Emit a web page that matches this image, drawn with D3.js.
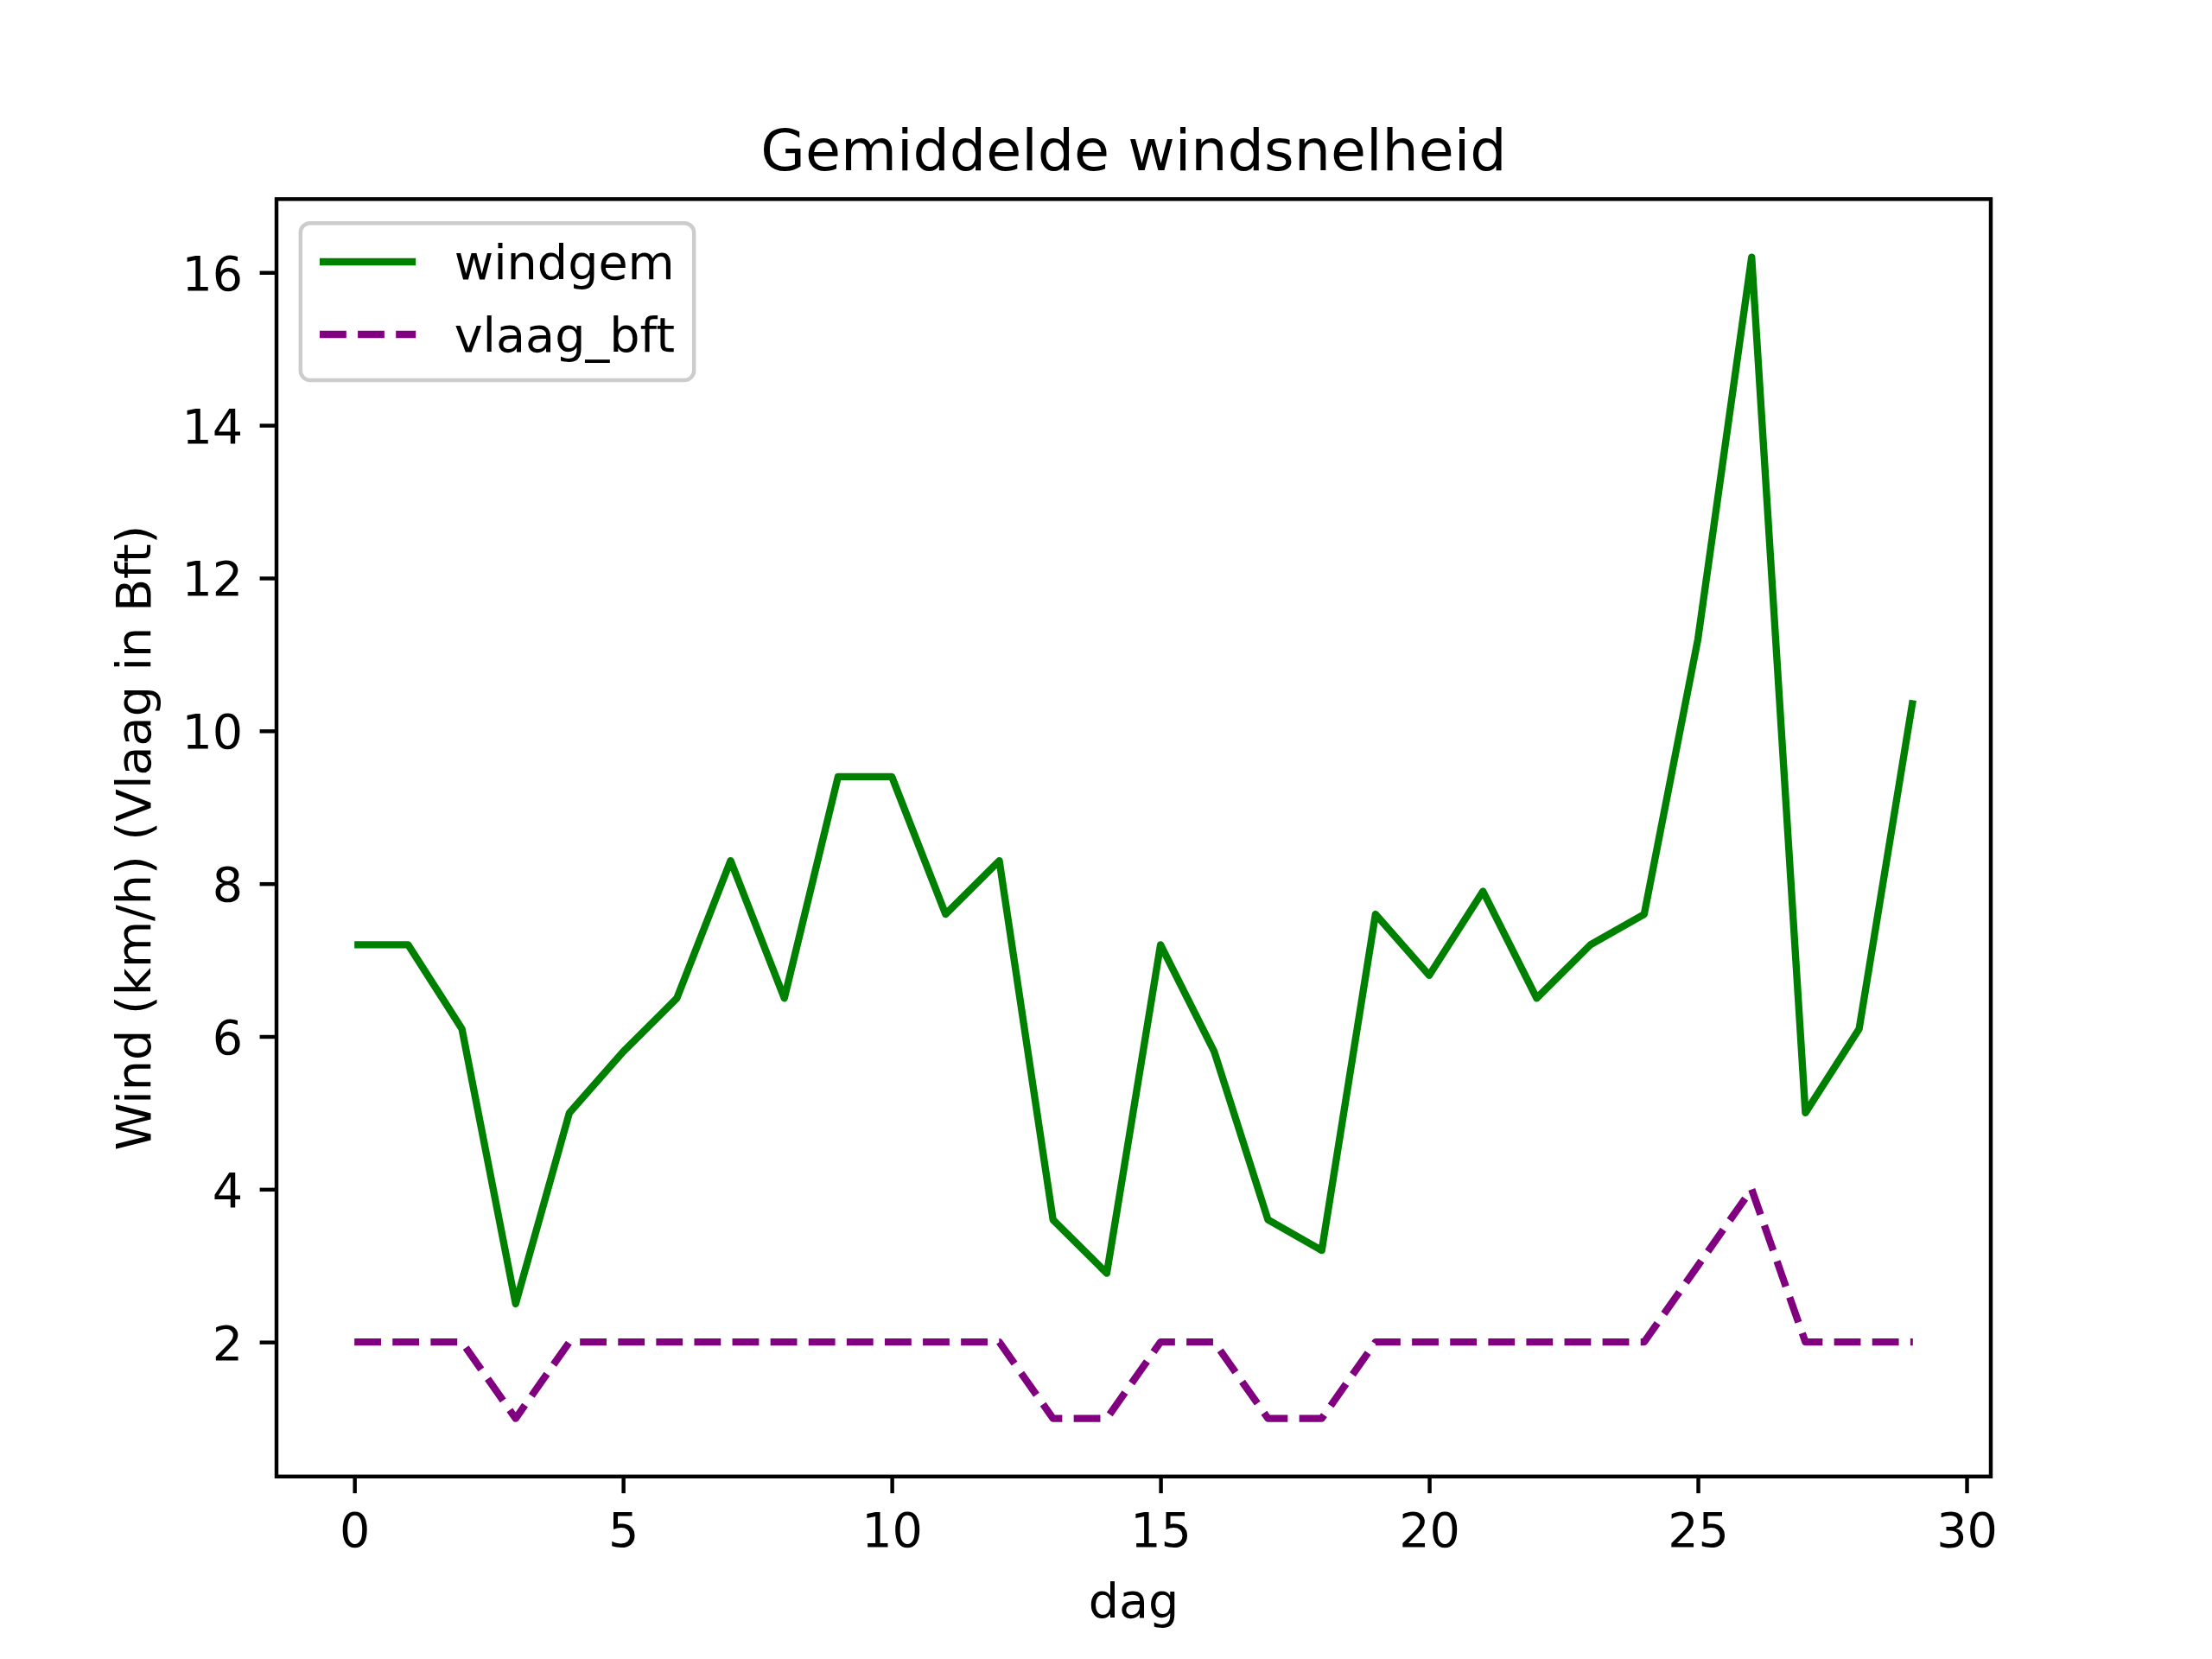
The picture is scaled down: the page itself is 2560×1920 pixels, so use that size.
<!DOCTYPE html>
<html><head><meta charset="utf-8">
<script src="https://cdn.jsdelivr.net/npm/d3@7"></script>
<style>body{margin:0;background:#fff}svg{display:block}text{font-family:"DejaVu Sans",sans-serif}</style>
</head><body><svg id="c" width="2560" height="1920"></svg>
<script>
const days = d3.range(0, 30);
const windgem = [7.2,7.2,6.1,2.5,5.0,5.8,6.5,8.3,6.5,9.4,9.4,7.6,8.3,3.6,2.9,7.2,5.8,3.6,3.2,7.6,6.8,7.9,6.5,7.2,7.6,11.2,16.2,5.0,6.1,10.4];
const vlaag_bft = [2,2,2,1,2,2,2,2,2,2,2,2,2,1,1,2,2,1,1,2,2,2,2,2,2,3,4,2,2,2];
const xTicks = [0,5,10,15,20,25,30];
const yTicks = [2,4,6,8,10,12,14,16];
const seriesNames = ["windgem","vlaag_bft"];
const title = "Gemiddelde windsnelheid";
const xLabel = "dag";
const yLabel = "Wind (km/h) (Vlaag in Bft)";

const svg = d3.select("#c");
const L=320, R=2304, T=230.4, B=1708.8;
const fs = 55.6;
function padDomain(lo, hi){const s=hi-lo;return [lo-0.05*s, hi+0.05*s];}
const allY = windgem.concat(vlaag_bft);
const x = d3.scaleLinear().domain(padDomain(0, 29)).range([L,R]);
const y = d3.scaleLinear().domain(padDomain(d3.min(allY), d3.max(allY))).range([B,T]);

const lw = 8.33;
const line = d3.line().x((d,i)=>x(days[i])).y(d=>y(d));
const g = svg.append("g");
g.append("path").datum(windgem).attr("d", line).attr("fill","none")
  .attr("stroke","#008000").attr("stroke-width",lw).attr("stroke-linejoin","round").attr("stroke-linecap","butt");
g.append("path").datum(vlaag_bft).attr("d", line).attr("fill","none")
  .attr("stroke","#800080").attr("stroke-width",lw).attr("stroke-dasharray","30.8,13.3").attr("stroke-linejoin","round");

// axes
const xa = svg.append("g").attr("transform",`translate(0,${B})`)
  .call(d3.axisBottom(x).tickValues(xTicks).tickFormat(d3.format("d")).tickSize(19.4).tickPadding(19.4));
const ya = svg.append("g").attr("transform",`translate(${L},0)`)
  .call(d3.axisLeft(y).tickValues(yTicks).tickFormat(d3.format("d")).tickSize(19.4).tickPadding(19.4));
[xa,ya].forEach(a=>{a.select(".domain").remove();a.selectAll("line").attr("stroke","#000").attr("stroke-width",4.44);
  a.selectAll("text").attr("font-size",fs).attr("fill","#000").attr("font-family","DejaVu Sans");});
xa.selectAll("text").attr("dy","0.76em");
ya.selectAll("text").attr("dy","0.36em");

svg.append("rect").attr("x",L).attr("y",T).attr("width",R-L).attr("height",B-T)
  .attr("fill","none").attr("stroke","#000").attr("stroke-width",4.44);

svg.append("text").attr("x",(L+R)/2).attr("y",197).attr("text-anchor","middle").attr("font-size",66.7).text(title);
svg.append("text").attr("x",(L+R)/2).attr("y",1872).attr("text-anchor","middle").attr("font-size",fs).text(xLabel);
svg.append("text").attr("transform",`translate(174,${(T+B)/2}) rotate(-90)`).attr("text-anchor","middle").attr("font-size",fs).text(yLabel);

// legend
const lx = L+27.8, ly = T+27.8;
const leg = svg.append("g");
const box = leg.append("rect").attr("x",lx).attr("y",ly).attr("rx",11).attr("ry",11)
  .attr("fill","#fff").attr("fill-opacity",0.8).attr("stroke","#cccccc").attr("stroke-width",4.44);
const styles = [{c:"#008000",dash:null},{c:"#800080",dash:"30.8,13.3"}];
const rowY = [303, 387];
let maxW = 0;
seriesNames.forEach((n,i)=>{
  const hx = lx+22.2;
  leg.append("line").attr("x1",hx).attr("x2",hx+111.2).attr("y1",rowY[i]).attr("y2",rowY[i])
    .attr("stroke",styles[i].c).attr("stroke-width",lw).attr("stroke-dasharray",styles[i].dash);
  const t = leg.append("text").attr("x",hx+111.2+44.5).attr("y",rowY[i]).attr("dy","0.36em").attr("font-size",fs).text(n);
  maxW = Math.max(maxW, t.node().getComputedTextLength());
});
box.attr("width",22.2+111.2+44.5+maxW+22.2).attr("height",440-ly);
</script></body></html>
